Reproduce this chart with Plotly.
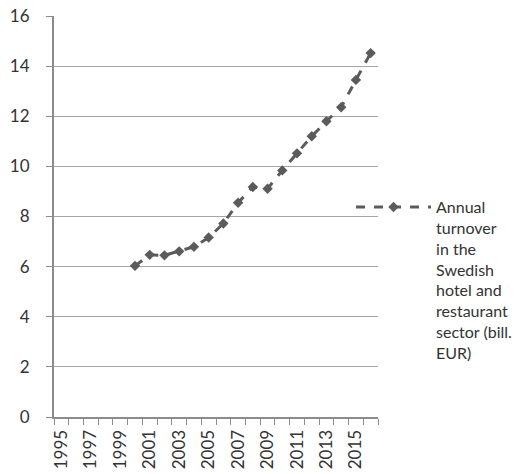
import plotly.graph_objects as go

years = list(range(1995, 2017))
turnover = [None, None, None, None, None,
            6.03, 6.47, 6.45, 6.61, 6.79, 7.16, 7.72, 8.55, 9.18, 9.11,
            9.84, 10.52, 11.2, 11.8, 12.36, 13.45, 14.52]
series_name = "Annual<br>turnover<br>in the<br>Swedish<br>hotel and<br>restaurant<br>sector (bill.<br>EUR)"
label_years = list(range(1995, 2016, 2))
y_ticks = [0, 2, 4, 6, 8, 10, 12, 14, 16]

fig = go.Figure()
fig.add_trace(go.Scatter(
    x=years, y=turnover, name=series_name, mode="lines+markers",
    line=dict(color="#5b5b5b", width=3, dash="dash"),
    marker=dict(symbol="diamond", size=8, color="#5b5b5b"),
    connectgaps=False, showlegend=True,
))

font = dict(family="Lato, Open Sans, sans-serif", size=17, color="#333333")

fig.update_layout(
    width=517, height=474,
    margin=dict(l=54, r=139, t=16, b=57, pad=0, autoexpand=False),
    paper_bgcolor="white", plot_bgcolor="white",
    font=font,
    showlegend=True,
    legend=dict(xref="container", yref="container",
                x=0.679, y=0.599, xanchor="left", yanchor="top",
                valign="top", itemwidth=75, font=dict(size=16, color="#333333"),
                tracegroupgap=0, bgcolor="rgba(0,0,0,0)"),
    xaxis=dict(
        range=[1994.5, 2016.5], tickmode="array",
        tickvals=label_years, ticktext=[str(y) for y in label_years],
        ticks="", tickangle=-90, showgrid=False, zeroline=False,
        showline=True, linecolor="#8c8c8c", linewidth=2, automargin=False,
        minor=dict(tickmode="array", tickvals=[y - 0.5 for y in years] + [2016.5],
                   ticks="outside", ticklen=6, tickcolor="#8c8c8c", tickwidth=1, showgrid=False),
        tickfont=font, ticklabelstandoff=4, ticklabeloverflow="allow",
    ),
    yaxis=dict(
        range=[0, 16], tickmode="array", tickvals=y_ticks,
        ticks="outside", ticklen=6, tickcolor="#8c8c8c", tickwidth=1,
        showgrid=True, gridcolor="#a6a6a6", gridwidth=1, zeroline=False,
        showline=True, linecolor="#8c8c8c", linewidth=2, automargin=False,
        ticklabelstandoff=13, tickfont=font, ticklabeloverflow="allow",
    ),
)

fig.write_html("out.html", config={"displayModeBar": False},
               post_script="document.body.style.margin='0';")
